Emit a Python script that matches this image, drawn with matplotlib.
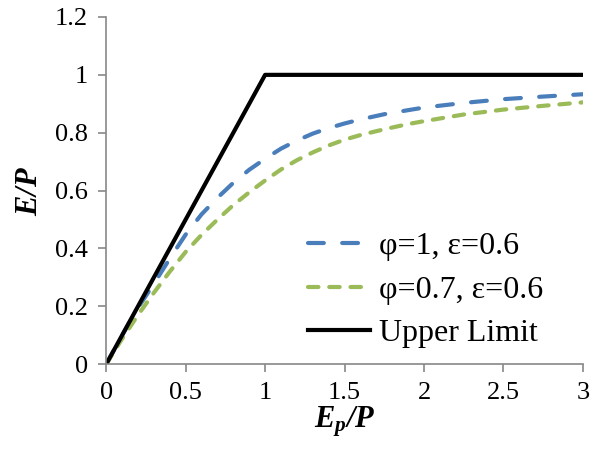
import numpy as np
import matplotlib.pyplot as plt

# values
x_curve = [0, 0.1, 0.2, 0.3, 0.4, 0.5, 0.6, 0.7, 0.8, 0.9, 1.0,
           1.1, 1.2, 1.3, 1.4, 1.5, 1.6, 1.75, 1.9, 2.0, 2.25, 2.5, 2.75, 3.0]
phi1 = [0, 0.1, 0.195, 0.278, 0.365, 0.448, 0.518, 0.575, 0.627, 0.672, 0.71,
        0.745, 0.773, 0.797, 0.816, 0.832, 0.846, 0.864, 0.878, 0.887,
        0.903, 0.916, 0.925, 0.933]
phi07 = [0, 0.088, 0.17, 0.247, 0.32, 0.388, 0.447, 0.5, 0.55, 0.594, 0.635,
         0.673, 0.705, 0.732, 0.756, 0.776, 0.792, 0.812, 0.83, 0.84,
         0.863, 0.88, 0.893, 0.905]
x_limit = [0, 1, 3]
y_limit = [0, 1, 1]

plt.rcParams['font.family'] = ['Liberation Serif', 'DejaVu Serif']
plt.rcParams['mathtext.fontset'] = 'custom'
plt.rcParams['mathtext.rm'] = 'Liberation Serif'
plt.rcParams['mathtext.it'] = 'Liberation Serif:italic'
plt.rcParams['mathtext.bf'] = 'Liberation Serif:bold'
plt.rcParams['mathtext.bfit'] = 'Liberation Serif:italic:bold'

fig = plt.figure(figsize=(5.9, 4.53), dpi=100)
ax = fig.add_axes([0.18, 0.196, 0.808, 0.7665])

ax.plot(x_curve, phi1, color='#4a7ebb', lw=3.0, dashes=(3.8, 4.4),
        dash_capstyle='round', label='φ=1, ε=0.6')
ax.plot(x_curve, phi07, color='#9bbb59', lw=3.0, dashes=(2.5, 2.6),
        dash_capstyle='round', label='φ=0.7, ε=0.6')
ax.plot(x_limit, y_limit, color='black', lw=3.0, label='Upper Limit')

ax.set_xlim(0, 3)
ax.set_ylim(0, 1.2)
ax.set_xticks([0, 0.5, 1, 1.5, 2, 2.5, 3])
ax.set_xticklabels(['0', '0.5', '1', '1.5', '2', '2.5', '3'])
ax.set_yticks([0, 0.2, 0.4, 0.6, 0.8, 1, 1.2])
ax.set_yticklabels(['0', '0.2', '0.4', '0.6', '0.8', '1', '1.2'])

for s in ['top', 'right']:
    ax.spines[s].set_visible(False)
for s in ['left', 'bottom']:
    ax.spines[s].set_color('#888888')
    ax.spines[s].set_linewidth(1.2)
ax.tick_params(direction='out', length=6, width=1.2, color='#888888',
               labelsize=19, pad=7)

ax.set_xlabel(r'$\mathbfit{E_p/P}$', fontsize=22, labelpad=0)
ax.set_ylabel(r'$\mathbfit{E/P}$', fontsize=22, labelpad=8)

ax.legend(loc='center left', frameon=False, fontsize=23, handlelength=1.95,
          labelspacing=0.44, handletextpad=0.28, borderaxespad=0,
          borderpad=0, bbox_to_anchor=(0.4235, 0.2136))

plt.savefig('out.png', dpi=100)
